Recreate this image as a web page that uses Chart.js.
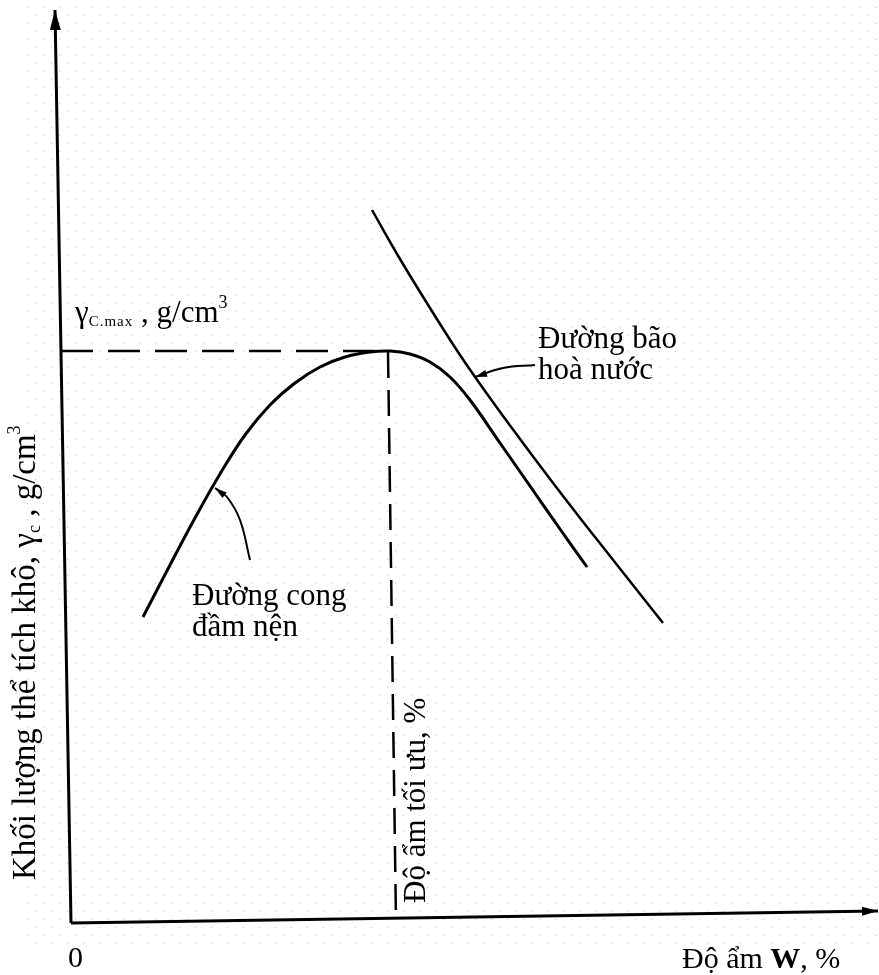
<!DOCTYPE html>
<html>
<head>
<meta charset="utf-8">
<script src="https://cdn.jsdelivr.net/npm/chart.js@4.4.0/dist/chart.umd.min.js"></script>
<style>
html, body { margin: 0; padding: 0; background: #fff; }
</style>
</head>
<body>
<canvas id="bieuDo" width="879" height="975"></canvas>
<script>
// W = do am (%), G = khoi luong the tich kho (g/cm3)
const congDamNen_W = [3.60, 4.95, 6.20, 7.45, 8.70, 9.95, 11.20, 12.45, 13.70, 14.95, 15.95, 16.95, 17.95, 18.95, 19.95, 21.45, 22.95, 24.45, 25.80];
const congDamNen_G = [1.606, 1.658, 1.705, 1.749, 1.788, 1.818, 1.840, 1.856, 1.866, 1.871, 1.872, 1.869, 1.861, 1.846, 1.823, 1.780, 1.737, 1.694, 1.656];

const baoHoa_W = [15.05, 16.45, 17.95, 19.45, 20.95, 22.45, 23.95, 25.45, 26.95, 28.45, 29.60];
const baoHoa_G = [2.013, 1.964, 1.915, 1.868, 1.825, 1.784, 1.744, 1.705, 1.667, 1.629, 1.600];

const trucY_W = [0, -0.8];
const trucY_G = [1.300, 2.213];
const trucX_W = [0, 40.35];
const trucX_G = [1.300, 1.312];

const ngangMax_W = [-0.5, 15.7];
const ngangMax_G = [1.872, 1.872];
const docToiUu_W = [15.85, 16.25];
const docToiUu_G = [1.871, 1.301];

const chiBaoHoa_W = [23.2, 21.6, 20.2];
const chiBaoHoa_G = [1.858, 1.855, 1.846];
const chiDamNen_W = [8.95, 8.45, 7.8, 7.2];
const chiDamNen_G = [1.663, 1.703, 1.726, 1.735];

function ghep(W, G) {
    return W.map((w, i) => ({ x: w, y: G[i] }));
}

const fontChu = '"Liberation Serif", "DejaVu Serif", serif';
function f(size, bold) {
    return (bold ? 'bold ' : '') + size + 'px ' + fontChu;
}

// chu thich: vi tri neo theo toa do du lieu
const ghiChu = [
    { x: 23.35, y: 1.875, phan: [{ t: 'Đường bão', font: f(31) }] },
    { x: 23.35, y: 1.844, phan: [{ t: 'hoà nước', font: f(31) }] },
    { x: 6.05, y: 1.618, phan: [{ t: 'Đường cong', font: f(31) }] },
    { x: 6.05, y: 1.587, phan: [{ t: 'đầm nện', font: f(31) }] },
    { x: -0.15, y: 1.256, phan: [{ t: '0', font: f(30) }] },
    { x: 30.55, y: 1.255, phan: [{ t: 'Độ ẩm ', font: f(30) }, { t: 'W', font: f(30, true) }, { t: ', %', font: f(30) }] },
    { x: 0.2, y: 1.901, phan: [
        { t: 'γ', font: f(31) }, { t: 'C.max', font: f(15), dy: 4, gian: '1px' },
        { t: ' , g/cm', font: f(31) }, { t: '3', font: f(18), dy: -14 }] },
    { x: -1.8, y: 1.343, xoay: -Math.PI / 2, phan: [
        { t: 'Khối lượng thể tích khô, ', font: f(33) }, { t: 'γ', font: f(33) },
        { t: 'c', font: f(18), dy: 5 }, { t: ' , g/cm', font: f(33) }, { t: '3', font: f(18), dy: -15 }] },
    { x: 17.7, y: 1.320, xoay: -Math.PI / 2, phan: [{ t: 'Độ ẩm tối ưu, %', font: f(31) }] }
];

const nenCham = {
    id: 'nenCham',
    beforeDraw(chart) {
        const ctx = chart.ctx;
        ctx.save();
        ctx.fillStyle = '#ffffff';
        ctx.fillRect(0, 0, chart.width, chart.height);
        ctx.fillStyle = '#c4c4c4';
        for (let y = -1; y < 946; y += 16) {
            for (let x = 3; x < chart.width; x += 16) {
                if (x > 24 && y >= 0) ctx.fillRect(x, y, 1, 1);
                if (x + 8 > 24 && y + 8 < 946) ctx.fillRect(x + 8, y + 8, 1, 1);
            }
        }
        ctx.restore();
    }
};

const muiTen = {
    id: 'muiTen',
    afterDatasetsDraw(chart) {
        const ctx = chart.ctx;
        chart.data.datasets.forEach((ds, i) => {
            if (!ds.muiTen) return;
            const pts = chart.getDatasetMeta(i).data;
            const a = pts[pts.length - 2], b = pts[pts.length - 1];
            const goc = Math.atan2(b.y - a.y, b.x - a.x);
            ctx.save();
            ctx.translate(b.x, b.y);
            ctx.rotate(goc);
            ctx.fillStyle = '#000';
            ctx.beginPath();
            ctx.moveTo(0, 0);
            ctx.lineTo(-ds.muiTen[0], -ds.muiTen[1] / 2);
            ctx.lineTo(-ds.muiTen[0], ds.muiTen[1] / 2);
            ctx.closePath();
            ctx.fill();
            ctx.restore();
        });
    }
};

const chuThich = {
    id: 'chuThich',
    afterDraw(chart) {
        const ctx = chart.ctx;
        const sx = chart.scales.x, sy = chart.scales.y;
        ctx.save();
        ctx.fillStyle = '#000';
        ctx.textBaseline = 'alphabetic';
        ghiChu.forEach(g => {
            ctx.save();
            ctx.translate(sx.getPixelForValue(g.x), sy.getPixelForValue(g.y));
            if (g.xoay) ctx.rotate(g.xoay);
            let dx = 0;
            g.phan.forEach(p => {
                ctx.font = p.font;
                ctx.letterSpacing = p.gian || '0px';
                ctx.fillText(p.t, dx, p.dy || 0);
                dx += ctx.measureText(p.t).width;
            });
            ctx.restore();
        });
        ctx.restore();
    }
};

function duong(data, rong, extra) {
    return Object.assign({
        data: data,
        showLine: true,
        borderColor: '#000',
        borderWidth: rong,
        pointRadius: 0,
        tension: 0,
        fill: false,
        clip: false
    }, extra || {});
}

const config = {
    type: 'scatter',
    data: {
        datasets: [
            duong(ghep(trucY_W, trucY_G), 3, { muiTen: [20, 11] }),
            duong(ghep(trucX_W, trucX_G), 3, { muiTen: [16, 9] }),
            duong(ghep(ngangMax_W, ngangMax_G), 2.5, { borderDash: [32, 15] }),
            duong(ghep(docToiUu_W, docToiUu_G), 2.5, { borderDash: [26, 12] }),
            duong(ghep(congDamNen_W, congDamNen_G), 3, { tension: 0.4 }),
            duong(ghep(baoHoa_W, baoHoa_G), 2.5, { tension: 0.4 }),
            duong(ghep(chiBaoHoa_W, chiBaoHoa_G), 2, { tension: 0.4, muiTen: [12, 7] }),
            duong(ghep(chiDamNen_W, chiDamNen_G), 2, { tension: 0.4, muiTen: [12, 7] })
        ]
    },
    options: {
        responsive: false,
        animation: false,
        devicePixelRatio: 1,
        layout: { padding: 0 },
        plugins: {
            legend: { display: false },
            tooltip: { enabled: false }
        },
        scales: {
            x: { type: 'linear', display: false, min: -3.55, max: 40.4 },
            y: { type: 'linear', display: false, min: 1.248, max: 2.223 }
        }
    },
    plugins: [nenCham, muiTen, chuThich]
};

new Chart(document.getElementById('bieuDo'), config);
</script>
</body>
</html>
